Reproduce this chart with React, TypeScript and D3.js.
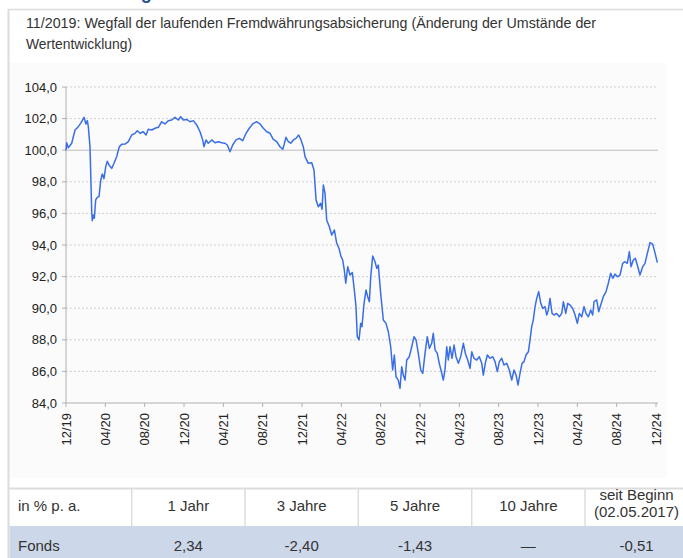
import React from "react";
import * as d3 from "d3";

// months since 12/2019 (x positions)
const monthOffsets = [
  0.0, 0.07, 0.23, 0.58, 0.92, 1.25, 1.49, 1.83, 2.03, 2.17, 2.27, 2.44, 2.54, 2.61, 2.67, 2.78, 2.88, 3.02, 3.18, 3.36,
  3.53, 3.69, 3.86, 4.04, 4.2, 4.37, 4.65, 4.88, 5.16, 5.42, 5.66, 6.0, 6.34, 6.68, 7.02, 7.25, 7.53, 7.86, 8.14, 8.37,
  8.72, 9.05, 9.39, 9.73, 10.07, 10.4, 10.75, 11.09, 11.42, 11.66, 11.93, 12.28, 12.61, 12.95, 13.29, 13.63, 13.9, 14.03, 14.24, 14.47,
  14.82, 15.15, 15.49, 15.83, 16.17, 16.4, 16.68, 16.95, 17.29, 17.62, 17.97, 18.31, 18.64, 19.05, 19.39, 19.73, 20.07, 20.41, 20.75, 21.08,
  21.43, 21.76, 22.04, 22.17, 22.37, 22.61, 22.85, 23.12, 23.39, 23.66, 23.87, 24.13, 24.31, 24.64, 24.99, 25.22, 25.43, 25.66, 25.9, 26.04,
  26.17, 26.34, 26.51, 26.78, 27.02, 27.29, 27.53, 27.76, 27.97, 28.14, 28.3, 28.45, 28.65, 28.88, 29.12, 29.32, 29.49, 29.62, 29.8, 29.97,
  30.1, 30.31, 30.51, 30.68, 30.85, 30.99, 31.19, 31.43, 31.6, 31.76, 32.0, 32.27, 32.54, 32.78, 33.02, 33.22, 33.39, 33.56, 33.79, 33.97,
  34.14, 34.3, 34.48, 34.65, 34.91, 35.16, 35.39, 35.6, 35.83, 36.07, 36.28, 36.51, 36.74, 36.95, 37.19, 37.35, 37.53, 37.76, 37.96, 38.21,
  38.37, 38.54, 38.72, 38.88, 39.05, 39.26, 39.46, 39.66, 39.9, 40.14, 40.41, 40.61, 40.85, 41.09, 41.26, 41.49, 41.77, 42.03, 42.28, 42.44,
  42.64, 42.85, 43.12, 43.4, 43.63, 43.86, 44.07, 44.31, 44.54, 44.82, 45.08, 45.33, 45.56, 45.77, 45.97, 46.17, 46.38, 46.58, 46.78, 47.02,
  47.19, 47.36, 47.52, 47.7, 47.87, 48.07, 48.28, 48.48, 48.71, 48.89, 49.05, 49.22, 49.43, 49.63, 49.9, 50.17, 50.41, 50.58, 50.82, 51.02,
  51.26, 51.53, 51.77, 52.0, 52.2, 52.45, 52.68, 52.88, 53.12, 53.36, 53.56, 53.7, 53.97, 54.17, 54.38, 54.64, 54.92, 55.15, 55.39, 55.6,
  55.83, 56.07, 56.34, 56.61, 56.85, 57.08, 57.29, 57.46, 57.69, 57.9, 58.1, 58.37, 58.65, 58.88, 59.12, 59.39, 59.66, 59.91, 60.14,
];

const fundValues = [
  100.0, 100.47, 100.16, 100.44, 101.28, 101.49, 101.7, 102.08, 101.66, 101.87, 101.49, 100.22, 97.9, 96.2, 95.54, 95.9, 95.69, 96.85, 97.02, 97.06,
  98.1, 98.5, 98.2, 98.96, 99.3, 99.06, 98.85, 99.17, 99.6, 100.22, 100.37, 100.39, 100.54, 100.96, 101.07, 101.23, 101.07, 101.17, 100.96, 101.32,
  101.28, 101.39, 101.45, 101.8, 101.66, 101.87, 101.91, 102.08, 101.91, 102.12, 101.91, 101.95, 101.8, 101.87, 101.6, 101.17, 100.65, 100.22, 100.65, 100.44,
  100.65, 100.47, 100.54, 100.47, 100.44, 100.33, 99.9, 100.33, 100.65, 100.75, 100.6, 101.07, 101.39, 101.7, 101.8, 101.66, 101.39, 101.17, 101.07, 100.69,
  100.54, 100.22, 100.06, 100.33, 100.82, 100.54, 100.44, 100.65, 100.75, 100.96, 100.69, 100.22, 99.59, 99.17, 99.21, 98.75, 96.85, 96.42, 96.64, 96.26,
  97.8, 97.27, 95.58, 95.16, 94.63, 94.95, 94.11, 93.79, 93.26, 93.05, 92.42, 91.58, 92.63, 92.1, 92.25, 91.15, 90.1, 88.2, 87.99, 89.04,
  88.83, 90.31, 91.15, 90.73, 90.41, 92.0, 93.3, 92.94, 92.52, 92.73, 90.94, 89.25, 89.04, 88.51, 87.56, 86.09, 87.04, 85.66, 85.45, 84.93,
  86.3, 85.77, 85.45, 86.72, 86.93, 87.56, 88.2, 87.99, 87.14, 86.09, 85.88, 87.14, 88.2, 87.46, 87.78, 88.41, 87.36, 87.14, 86.51, 85.88,
  85.45, 86.09, 87.56, 86.72, 87.56, 86.83, 87.67, 86.93, 86.51, 86.93, 87.78, 87.14, 86.72, 86.19, 87.24, 86.83, 86.72, 86.93, 86.51, 85.77,
  86.51, 87.04, 86.83, 86.93, 86.62, 85.99, 86.62, 86.83, 86.41, 86.51, 86.09, 85.45, 86.09, 85.77, 85.14, 85.88, 86.51, 86.62, 87.04, 87.24,
  87.99, 88.83, 89.25, 90.1, 90.62, 91.05, 90.31, 89.99, 90.1, 89.57, 89.89, 90.62, 89.67, 89.57, 89.67, 89.46, 89.67, 90.41, 89.67, 90.31,
  90.2, 89.99, 89.57, 89.04, 89.67, 89.46, 90.1, 89.67, 89.46, 89.89, 89.57, 90.41, 90.52, 89.78, 90.2, 90.73, 91.05, 91.58, 92.21, 91.89,
  92.16, 91.99, 92.1, 92.84, 92.94, 92.84, 93.58, 92.63, 93.05, 93.16, 92.73, 92.1, 92.63, 92.84, 93.47, 94.15, 94.06, 93.47, 92.88,
];

const yTicks = [84, 86, 88, 90, 92, 94, 96, 98, 100, 102, 104];
const xTickMonths = [0, 4, 8, 12, 16, 20, 24, 28, 32, 36, 40, 44, 48, 52, 56, 60];
const xTickLabels = ["12/19", "04/20", "08/20", "12/20", "04/21", "08/21", "12/21", "04/22", "08/22", "12/22", "04/23", "08/23", "12/23", "04/24", "08/24", "12/24"];

const tableHeaders = ["1 Jahr", "3 Jahre", "5 Jahre", "10 Jahre"];
const tableLastHeader = ["seit Beginn", "(02.05.2017)"];
const tableRowLabel = "Fonds";
const tableValues = ["2,34", "-2,40", "-1,43", "—", "-0,51"];

const titleLine1 = "11/2019: Wegfall der laufenden Fremdwährungsabsicherung (Änderung der Umstände der";
const titleLine2 = "Wertentwicklung)";

export default function App() {
  const W = 683;
  const H = 558;
  const x = d3.scaleLinear().domain([0, 60]).range([66, 656]);
  const y = d3.scaleLinear().domain([84, 104]).range([403, 87]);
  const data = monthOffsets.map((m, i) => ({ m, v: fundValues[i] }));
  const line = d3
    .line<{ m: number; v: number }>()
    .x((d) => x(d.m))
    .y((d) => y(d.v));
  const fmt = (v: number) => d3.format(".1f")(v).replace(".", ",");
  const font = "'Liberation Sans', Arial, sans-serif";
  const colEdges = [131.7, 245, 358.3, 471.7, 585, 688];
  const gridRight = 658;

  return (
    <svg
      width={W}
      height={H}
      style={{ position: "absolute", left: 0, top: 0, display: "block" }}
      fontFamily={font}
    >
      <rect x={0} y={0} width={W} height={H} fill="#ffffff" />
      {/* clipped heading (only its descender is visible, as in the reference) */}
      <text x={8} y={-1} fontSize={18} fontWeight="bold" fill="#1d4f91">
        Wertentwicklung
      </text>
      {/* box borders */}
      <line x1={8.5} y1={9} x2={8.5} y2={H} stroke="#dcdcdc" strokeWidth={2} />
      <line x1={8} y1={9.5} x2={W} y2={9.5} stroke="#dcdcdc" strokeWidth={1.5} />
      {/* chart panel */}
      <rect x={10} y={63} width={657} height={415} fill="#fbfbfb" />
      {/* title */}
      <text x={26} y={28} fontSize={15} fill="#333" textLength={570} lengthAdjust="spacingAndGlyphs">
        {titleLine1}
      </text>
      <text x={26} y={49} fontSize={15} fill="#333" textLength={106} lengthAdjust="spacingAndGlyphs">
        {titleLine2}
      </text>
      {/* grid */}
      {yTicks.map((t) =>
        t === 100 ? (
          <line key={t} x1={66} x2={gridRight} y1={y(t)} y2={y(t)} stroke="#bdbdbd" strokeWidth={1} />
        ) : t === 84 ? null : (
          <line
            key={t}
            x1={66}
            x2={gridRight}
            y1={y(t)}
            y2={y(t)}
            stroke="#cfcfcf"
            strokeWidth={1}
            strokeDasharray="2,2"
          />
        )
      )}
      {/* y axis */}
      <line x1={66} x2={66} y1={y(104)} y2={y(84)} stroke="#b0b0b0" strokeWidth={1} />
      {yTicks.map((t) => (
        <g key={"yt" + t}>
          <line x1={62} x2={66} y1={y(t)} y2={y(t)} stroke="#b0b0b0" />
          <text x={57} y={y(t)} dy="0.35em" textAnchor="end" fontSize={13} fill="#222">
            {fmt(t)}
          </text>
        </g>
      ))}
      {/* x axis */}
      <line x1={66} x2={gridRight} y1={y(84)} y2={y(84)} stroke="#b0b0b0" strokeWidth={1} />
      {xTickMonths.map((m, i) => (
        <g key={"xt" + m}>
          <line x1={x(m)} x2={x(m)} y1={y(84)} y2={y(84) + 4} stroke="#b0b0b0" />
          <text
            transform={`translate(${x(m) + 4.5},${y(84) + 10}) rotate(-90)`}
            textAnchor="end"
            fontSize={13}
            fill="#222"
          >
            {xTickLabels[i]}
          </text>
        </g>
      ))}
      {/* series */}
      <path d={line(data) || ""} fill="none" stroke="#3a6ee6" strokeWidth={1.5} strokeLinejoin="round" />
      {/* table */}
      <line x1={8} x2={W} y1={488.5} y2={488.5} stroke="#dcdcdc" strokeWidth={2} />
      <rect x={9.5} y={526} width={W - 9.5} height={H - 526} fill="#cdd7ea" />
      {colEdges.slice(0, 5).map((cx) => (
        <line key={"cs" + cx} x1={cx} x2={cx} y1={489} y2={526} stroke="#dcdcdc" strokeWidth={1.5} />
      ))}
      <text x={18} y={511} fontSize={15} fill="#333">
        in % p. a.
      </text>
      {tableHeaders.map((h, i) => (
        <text key={h} x={(colEdges[i] + colEdges[i + 1]) / 2} y={511} fontSize={15} fill="#333" textAnchor="middle">
          {h}
        </text>
      ))}
      <text x={(colEdges[4] + colEdges[5]) / 2} y={500} fontSize={15} fill="#333" textAnchor="middle">
        {tableLastHeader[0]}
      </text>
      <text x={(colEdges[4] + colEdges[5]) / 2} y={517} fontSize={15} fill="#333" textAnchor="middle">
        {tableLastHeader[1]}
      </text>
      <text x={18} y={551} fontSize={15} fill="#333">
        {tableRowLabel}
      </text>
      {tableValues.map((v, i) => (
        <text key={"tv" + i} x={(colEdges[i] + colEdges[i + 1]) / 2} y={551} fontSize={15} fill="#333" textAnchor="middle">
          {v}
        </text>
      ))}
    </svg>
  );
}
